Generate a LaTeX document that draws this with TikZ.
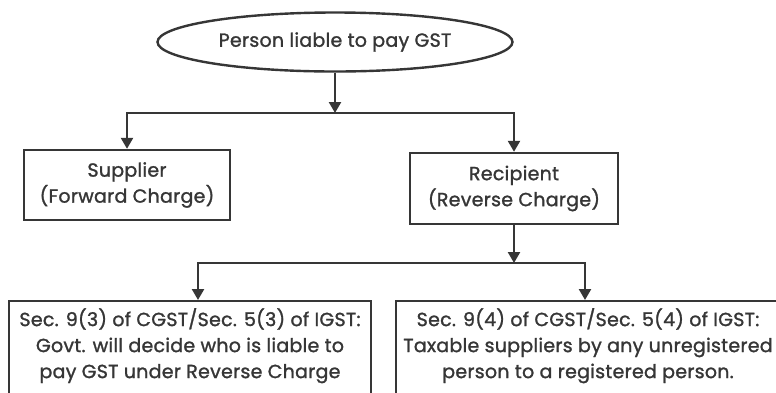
\documentclass[tikz,border=0pt]{standalone}
\usepackage{fontspec}
\setmainfont{Poppins}[RawFeature={embolden=1.3},LetterSpace=1.4]
\usetikzlibrary{arrows.meta,shapes.geometric,positioning}
\definecolor{ink}{HTML}{363636}
\tikzset{
  box/.style    = {draw=ink, line width=2.4pt, fill=white, text=ink, align=center,
                   inner sep=0pt},
  ellbox/.style = {ellipse, draw=ink, line width=2.4pt, fill=white, text=ink,
                   inner sep=0pt, minimum width=355pt, minimum height=59pt},
  link/.style   = {draw=ink, line width=2.4pt, -{Triangle[length=11pt,width=12pt]}},
}

\begin{document}
\begin{tikzpicture}[x=1pt,y=-1pt,font=\fontsize{19}{26}\selectfont]
  \useasboundingbox (0,0) rectangle (776,392);
  \clip (0,0) rectangle (776,392);
  % who pays
  \node[ellbox] (liable) at (335,42) {Person liable to pay GST};
  \node[box,minimum width=206pt,minimum height=70pt] (supplier) at (127,185)
    {Supplier\\(Forward Charge)};
  \node[box,minimum width=208pt,minimum height=71pt] (recipient) at (514,188.5)
    {Recipient\\(Reverse Charge)};
  \coordinate (split1) at (335,113);
  \draw[link] (liable) -- (split1);
  \draw[link] (split1) -| (supplier);
  \draw[link] (split1) -| (recipient);
  % reverse charge cases
  \node[box,anchor=north,minimum width=362pt,inner ysep=7pt,text depth=90pt]
    (sec93) at (190,300)
    {Sec. 9(3) of CGST/Sec. 5(3) of IGST:\\Govt. will decide who is liable to\\pay GST under Reverse Charge};
  \node[box,anchor=north,minimum width=384pt,inner ysep=7pt,text depth=90pt]
    (sec94) at (588,300)
    {Sec. 9(4) of CGST/Sec. 5(4) of IGST:\\Taxable suppliers by any unregistered\\person to a registered person.};
  \coordinate (split2) at (514,263);
  \draw[link] (recipient) -- (split2);
  \draw[link] (split2) -| ([xshift=8pt]sec93.north);
  \draw[link] (split2) -| ([xshift=-3pt]sec94.north);
\end{tikzpicture}
\end{document}
